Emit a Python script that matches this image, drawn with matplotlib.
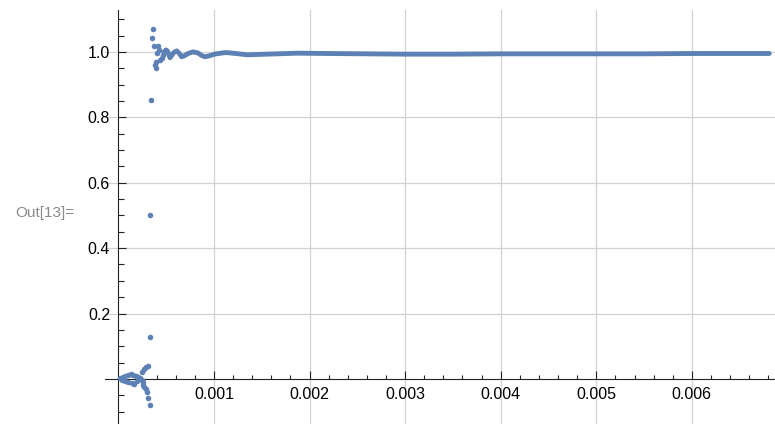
import matplotlib.pyplot as plt
import numpy as np

# scattered samples before and during the step
scat_x = [0.0000167, 0.000045, 0.000069, 0.000104, 0.000128, 0.000156, 0.000184, 0.000208,
          0.000034, 0.000069, 0.000104, 0.000139, 0.000163, 0.000191, 0.000226, 0.000243,
          0.000261, 0.000261, 0.000271, 0.000285, 0.000296, 0.000313, 0.000326,
          0.000243, 0.000268, 0.000289, 0.000313,
          0.000330, 0.000330, 0.000346, 0.000355, 0.000365,
          0.000374, 0.000385, 0.000395, 0.000404, 0.000414, 0.000425, 0.000392, 0.000440,
          0.000456, 0.000467, 0.000480]
scat_y = [0.004, 0.007, 0.010, 0.012, 0.014, 0.012, 0.010, 0.007,
          -0.003, -0.006, -0.008, -0.013, -0.016, -0.006, 0.002, -0.003,
          -0.008, -0.018, -0.023, -0.031, -0.039, -0.059, -0.078,
          0.022, 0.031, 0.036, 0.040,
          0.128, 0.502, 0.853, 1.043, 1.070,
          1.018, 0.960, 0.969, 0.997, 1.018, 1.006, 0.951, 0.975,
          0.982, 0.991, 1.000]

# dense trace after the step (damped ringing settling near 1)
trace_x = [0.000480, 0.000498, 0.000515, 0.000530, 0.000540, 0.000555, 0.000580, 0.000610,
           0.000635, 0.000662, 0.000690, 0.000730, 0.000780, 0.000830, 0.000870, 0.000906,
           0.000950, 0.001021, 0.001125, 0.001230, 0.001345, 0.00155, 0.00187, 0.00220,
           0.00260, 0.00300, 0.00350, 0.00400, 0.00450, 0.00500, 0.00550, 0.00600,
           0.00650, 0.00681]
trace_y = [1.000, 1.006, 1.002, 0.990, 0.982, 0.988, 0.998, 1.003,
           0.996, 0.985, 0.988, 0.995, 1.000, 0.997, 0.989, 0.985,
           0.988, 0.994, 0.998, 0.995, 0.991, 0.993, 0.996, 0.995,
           0.994, 0.993, 0.993, 0.994, 0.994, 0.994, 0.994, 0.995,
           0.995, 0.995]

x_major = [0.001, 0.002, 0.003, 0.004, 0.005, 0.006]
x_labels = ['0.001', '0.002', '0.003', '0.004', '0.005', '0.006']
y_major = [0.2, 0.4, 0.6, 0.8, 1.0]
y_labels = ['0.2', '0.4', '0.6', '0.8', '1.0']

blue = '#5e81b5'
plt.rcParams['font.family'] = ['Liberation Sans', 'DejaVu Sans']

fig = plt.figure(figsize=(7.75, 4.24), dpi=100)
ax = fig.add_axes([105 / 775, 0, 670 / 775, 414 / 424])

ax.plot(trace_x, trace_y, color=blue, lw=3.5, solid_joinstyle='round',
        solid_capstyle='round', zorder=3)
ax.scatter(scat_x, scat_y, s=16, color=blue, linewidths=0, zorder=4)

ax.set_xlim(-0.00014, 0.00687)
ax.set_ylim(-0.1376, 1.128)

for s in ['top', 'right']:
    ax.spines[s].set_visible(False)
ax.spines['left'].set_position(('data', 0))
ax.spines['bottom'].set_position(('data', 0))
for s in ['left', 'bottom']:
    ax.spines[s].set_linewidth(0.8)
    ax.spines[s].set_color('#222222')

ax.set_xticks(x_major)
ax.set_xticklabels(x_labels)
ax.set_yticks(y_major)
ax.set_yticklabels(y_labels)
ax.set_xticks(np.round(np.arange(0.0002, 0.0069, 0.0002), 5), minor=True)
ax.set_yticks(np.round(np.arange(-0.10, 1.11, 0.05), 2), minor=True)

ax.tick_params(axis='both', which='major', direction='in', length=5.5, width=0.8,
               color='#222222', labelsize=11.5)
ax.tick_params(axis='x', which='major', pad=6)
ax.tick_params(axis='y', which='major', pad=6)
ax.tick_params(axis='x', which='minor', direction='in', length=2.8, width=0.8, color='#222222')
ax.tick_params(axis='y', which='minor', direction='in', length=4, width=0.8, color='#222222')

ax.grid(True, which='major', color='#d2d2d2', lw=0.9, zorder=0)
ax.set_axisbelow(True)

fig.text(15 / 775, 1 - 213 / 424, 'Out[13]=', color='#8a8a8a', fontsize=11, va='center')

fig.savefig('out.png', dpi=100)
